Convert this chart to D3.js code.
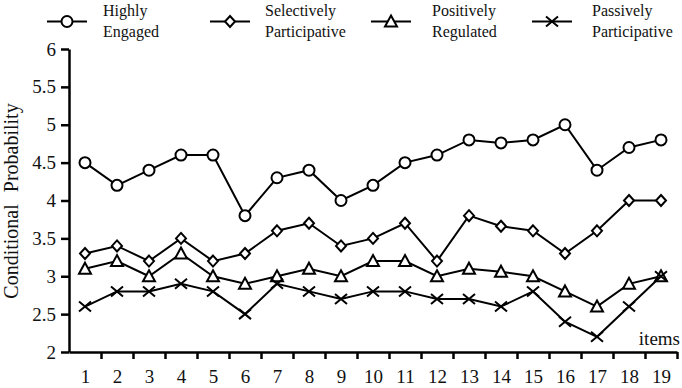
<!DOCTYPE html>
<html>
<head>
<meta charset="utf-8">
<script src="https://cdn.jsdelivr.net/npm/d3@7"></script>
<style>
  body { margin: 0; background: #fff; }
</style>
</head>
<body>
<div id="chart"></div>
<script>
// data
const items = d3.range(1, 20);
const seriesNames = ["Highly Engaged", "Selectively Participative", "Positively Regulated", "Passively Participative"];
const legendLines = [["Highly", "Engaged"], ["Selectively", "Participative"], ["Positively", "Regulated"], ["Passively", "Participative"]];
const highlyEngaged = [4.5, 4.2, 4.4, 4.6, 4.6, 3.8, 4.3, 4.4, 4.0, 4.2, 4.5, 4.6, 4.8, 4.76, 4.8, 5.0, 4.4, 4.7, 4.8];
const selectively = [3.3, 3.4, 3.2, 3.5, 3.2, 3.3, 3.6, 3.7, 3.4, 3.5, 3.7, 3.2, 3.8, 3.66, 3.6, 3.3, 3.6, 4.0, 4.0];
const positively = [3.1, 3.2, 3.0, 3.3, 3.0, 2.9, 3.0, 3.1, 3.0, 3.2, 3.2, 3.0, 3.1, 3.06, 3.0, 2.8, 2.6, 2.9, 3.0];
const passively = [2.6, 2.8, 2.8, 2.9, 2.8, 2.5, 2.9, 2.8, 2.7, 2.8, 2.8, 2.7, 2.7, 2.6, 2.8, 2.4, 2.2, 2.6, 3.0];
const yTicks = [2, 2.5, 3, 3.5, 4, 4.5, 5, 5.5, 6];
const markers = ["circle", "diamond", "triangle", "cross"];

const allSeries = [highlyEngaged, selectively, positively, passively];

const width = 682, height = 388;
const FONT = "'Liberation Serif'";
const svg = d3.select("#chart").append("svg")
    .attr("width", width)
    .attr("height", height);

const x = d3.scaleLinear().domain([0.5, 19.5]).range([69, 677]);
const y = d3.scaleLinear().domain([2, 6]).range([352, 49]);

// y axis
const yAxis = d3.axisLeft(y)
    .tickValues(yTicks)
    .tickFormat(d => d)
    .tickSize(8)
    .tickSizeOuter(0)
    .tickPadding(5);

const gy = svg.append("g")
    .attr("transform", "translate(" + x(0.5) + ",0)")
    .call(yAxis);
gy.select(".domain").attr("stroke", "#000").attr("stroke-width", 2.5);
gy.selectAll(".tick line").attr("stroke", "#000").attr("stroke-width", 2.5);
gy.selectAll("text").style("font-family", FONT).style("font-size", "19px").attr("fill", "#111");

// x axis: tick marks between items, labels centered
const xAxis = d3.axisBottom(x)
    .tickValues(items.map(d => d + 0.5))
    .tickFormat("")
    .tickSize(7)
    .tickSizeOuter(0);

const gx = svg.append("g")
    .attr("transform", "translate(0," + y(2) + ")")
    .call(xAxis);
gx.select(".domain").attr("stroke", "#000").attr("stroke-width", 2.5);
gx.selectAll(".tick line").attr("stroke", "#000").attr("stroke-width", 2.5);

const xLabels = d3.axisBottom(x)
    .tickValues(items)
    .tickFormat(d => d)
    .tickSize(0)
    .tickPadding(18);

const gxl = svg.append("g")
    .attr("transform", "translate(0," + y(2) + ")")
    .call(xLabels);
gxl.select(".domain").remove();
gxl.selectAll("text").style("font-family", FONT).style("font-size", "19px").attr("fill", "#111");

svg.append("text")
    .attr("x", 680)
    .attr("y", 345)
    .attr("text-anchor", "end")
    .attr("fill", "#111")
    .style("font-family", FONT)
    .style("font-size", "19px")
    .text("items");

// y label
svg.append("text")
    .attr("transform", "translate(18," + 201 + ") rotate(-90)")
    .attr("text-anchor", "middle")
    .attr("fill", "#111")
    .style("font-family", FONT)
    .style("font-size", "20px")
    .style("word-spacing", "7px")
    .text("Conditional Probability");

// marker drawing
function drawMarker(g, type) {
    if (type === "circle") {
        g.append("circle").attr("r", 5.5);
    } else if (type === "diamond") {
        g.append("path").attr("d", "M0,-5.5L5,0L0,5.5L-5,0Z");
    } else if (type === "triangle") {
        g.append("path").attr("d", "M0,-6L6,5L-6,5Z");
    } else {
        g.append("path").attr("d", "M-6,-5L6,5M-6,5L6,-5").attr("fill", "none");
    }
}

const line = d3.line()
    .x((d, i) => x(items[i]))
    .y(d => y(d));

allSeries.forEach((vals, k) => {
    svg.append("path")
        .datum(vals)
        .attr("fill", "none")
        .attr("stroke", "#000")
        .attr("stroke-width", 2)
        .attr("d", line);

    vals.forEach((v, i) => {
        const g = svg.append("g")
            .attr("transform", "translate(" + x(items[i]) + "," + y(v) + ")")
            .attr("fill", "#fff")
            .attr("stroke", "#000")
            .attr("stroke-width", 2);
        drawMarker(g, markers[k]);
    });
});

// legend
const legendX = [67, 230, 391, 552];
const legendTextX = [103, 265, 432, 592];
seriesNames.forEach((name, k) => {
    const lg = svg.append("g");
    lg.append("line")
        .attr("x1", legendX[k] - 20).attr("x2", legendX[k] + 20)
        .attr("y1", 21.5).attr("y2", 21.5)
        .attr("stroke", "#000").attr("stroke-width", 2);
    const m = lg.append("g")
        .attr("transform", "translate(" + legendX[k] + ",21.5)")
        .attr("fill", "#fff")
        .attr("stroke", "#000")
        .attr("stroke-width", 2);
    drawMarker(m, markers[k]);
    legendLines[k].forEach((t, j) => {
        lg.append("text")
            .attr("x", legendTextX[k])
            .attr("y", 16 + j * 21)
            .attr("fill", "#111")
            .style("font-family", FONT)
            .style("font-size", "16px")
            .text(t);
    });
});
</script>
</body>
</html>
